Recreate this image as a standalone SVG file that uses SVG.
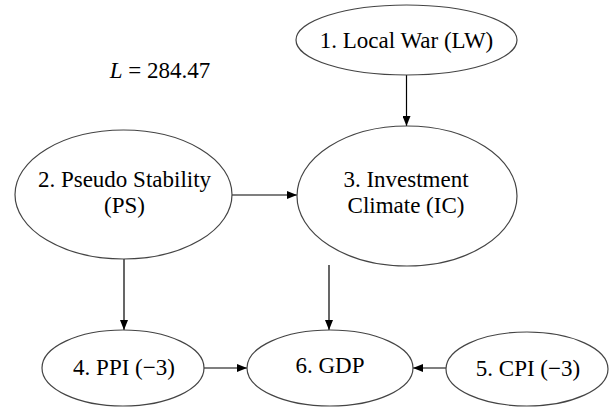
<svg xmlns="http://www.w3.org/2000/svg" width="611" height="408" viewBox="0 0 611 408">
<style>
.n ellipse{fill:#fff;stroke:#444;stroke-width:1.2}
.t{font-family:"Liberation Serif","Times New Roman",Times,serif;font-size:23px;fill:#000;text-anchor:middle}
#connectors line{stroke:#000;stroke-width:1.2}
</style>
<defs>
<marker id="ah" viewBox="0 0 10 8" refX="10" refY="4" markerWidth="10" markerHeight="8" markerUnits="userSpaceOnUse" orient="auto">
<path d="M0,0 L10,4 L0,8 Z" fill="#000"/>
</marker>
</defs>
<rect width="611" height="408" fill="#fff"/>
<text class="t" x="160" y="78" font-family="Liberation Serif, serif"><tspan font-style="italic">L</tspan> = 284.47</text>
<g id="connectors">
<line x1="406.5" y1="75" x2="406.5" y2="126" marker-end="url(#ah)"/>
<line x1="232" y1="195" x2="297" y2="195" marker-end="url(#ah)"/>
<line x1="124" y1="259" x2="124" y2="330" marker-end="url(#ah)"/>
<line x1="329" y1="265" x2="329" y2="330" marker-end="url(#ah)"/>
<line x1="203" y1="368" x2="247" y2="368" marker-end="url(#ah)"/>
<line x1="446" y1="368" x2="413" y2="368" marker-end="url(#ah)"/>
</g>
<g class="n" id="n1"><ellipse cx="406.5" cy="40" rx="110.5" ry="35"/><text class="t" x="406.5" y="48" font-family="Liberation Serif, serif">1. Local War (LW)</text></g>
<g class="n" id="n2"><ellipse cx="123.5" cy="194.5" rx="108.5" ry="64.5"/><text class="t" x="124.5" y="187" font-family="Liberation Serif, serif">2. Pseudo Stability</text><text class="t" x="124.5" y="213" font-family="Liberation Serif, serif">(PS)</text></g>
<g class="n" id="n3"><ellipse cx="407" cy="196" rx="110" ry="70"/><text class="t" x="406" y="187" font-family="Liberation Serif, serif">3. Investment</text><text class="t" x="406" y="213" font-family="Liberation Serif, serif">Climate (IC)</text></g>
<g class="n" id="n4"><ellipse cx="123" cy="368" rx="81" ry="38"/><text class="t" x="124" y="375" font-family="Liberation Serif, serif">4. PPI (&#8722;3)</text></g>
<g class="n" id="n6"><ellipse cx="330" cy="368" rx="83" ry="38"/><text class="t" x="330" y="373" font-family="Liberation Serif, serif">6. GDP</text></g>
<g class="n" id="n5"><ellipse cx="527" cy="369" rx="81" ry="37"/><text class="t" x="528" y="376" font-family="Liberation Serif, serif">5. CPI (&#8722;3)</text></g>
</svg>
